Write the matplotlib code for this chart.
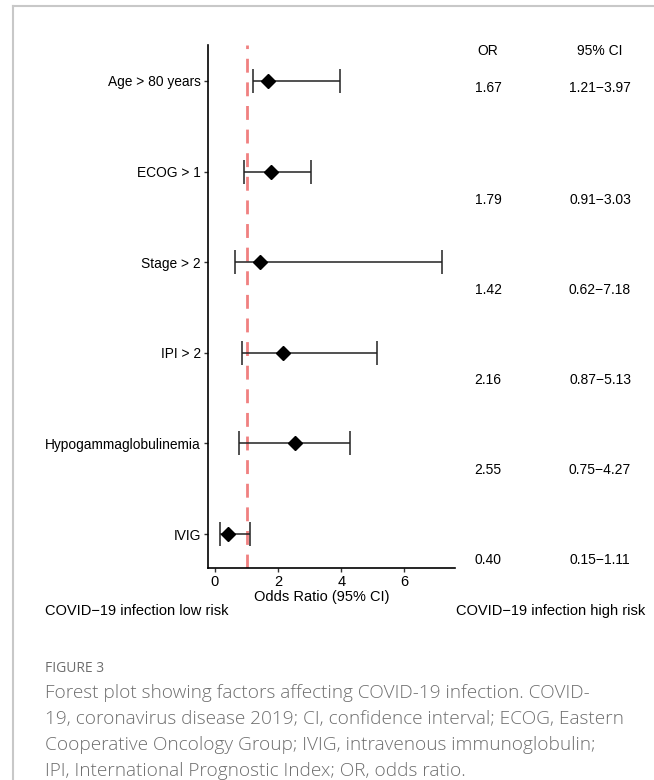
import matplotlib
matplotlib.use("Agg")
import matplotlib.pyplot as plt
from matplotlib.lines import Line2D

factors = ["Age > 80 years", "ECOG > 1", "Stage > 2", "IPI > 2",
           "Hypogammaglobulinemia", "IVIG"]
odds_ratio = [1.67, 1.79, 1.42, 2.16, 2.55, 0.40]
ci_low = [1.21, 0.91, 0.62, 0.87, 0.75, 0.15]
ci_high = [3.97, 3.03, 7.18, 5.13, 4.27, 1.11]
x_ticks = [0, 2, 4, 6]

W, H = 654, 780
fig = plt.figure(figsize=(W / 100, H / 100), dpi=100)
plt.rcParams['font.family'] = ['Liberation Sans', 'DejaVu Sans']

def fx(px):
    return px / W

def fy(py):
    return 1 - py / H

# frame lines of the page
fig.add_artist(Line2D([fx(13), fx(13)], [fy(6), 0], color="#c8c8c8", lw=1.5))
fig.add_artist(Line2D([fx(13), 1], [fy(6), fy(6)], color="#c8c8c8", lw=1.5))

ax_l, ax_r, ax_t, ax_b = 208, 455, 45, 568
ax = fig.add_axes([fx(ax_l), fy(ax_b), (ax_r - ax_l) / W, (ax_b - ax_t) / H])

ypos = list(range(len(factors)))
xerr = [[o - l for o, l in zip(odds_ratio, ci_low)],
        [h - o for o, h in zip(odds_ratio, ci_high)]]

ax.axvline(1, color="#f08080", lw=2, dashes=(5, 3.5), zorder=1)
ax.errorbar(odds_ratio, ypos, xerr=xerr, fmt="D", color="black",
            ecolor="#222222", elinewidth=1.1, capsize=8.3, capthick=1.1,
            markersize=7, zorder=3)

ax.set_xlim(-0.22, 7.6)
ax.set_ylim(5.375, -0.397)
ax.set_yticks(ypos)
ax.set_yticklabels(factors, fontsize=9.9)
ax.set_xticks(x_ticks)
ax.set_xticklabels([str(t) for t in x_ticks], fontsize=10.5)
ax.spines["top"].set_visible(False)
ax.spines["right"].set_visible(False)
for s in ("left", "bottom"):
    ax.spines[s].set_linewidth(1.2)
ax.tick_params(axis="both", length=3, width=1, color="#333333", pad=2)

# table columns
or_x, ci_x = 488, 600
fig.text(fx(or_x), fy(51), "OR", ha="center", va="center", fontsize=10)
fig.text(fx(ci_x), fy(51), "95% CI", ha="center", va="center", fontsize=10)
row_text_y = [88, 200, 290, 380, 470, 560]
for o, l, h, ty in zip(odds_ratio, ci_low, ci_high, row_text_y):
    fig.text(fx(or_x), fy(ty), f"{o:.2f}", ha="center", va="center", fontsize=10)
    fig.text(fx(ci_x), fy(ty), f"{l:.2f}\u2212{h:.2f}", ha="center", va="center", fontsize=10)

fig.text(fx(322), fy(597), "Odds Ratio (95% CI)", ha="center", va="center", fontsize=10.5)
fig.text(fx(45), fy(611), "COVID\u221219 infection low risk", ha="left", va="center", fontsize=10.5)
fig.text(fx(645), fy(611), "COVID\u221219 infection high risk", ha="right", va="center", fontsize=10.5)

cap_color = "#6e6e6e"
fig.text(fx(45), fy(668), "FIGURE 3", ha="left", va="center", fontsize=10,
         family="Open Sans", color=cap_color)
caption = [
    "Forest plot showing factors affecting COVID-19 infection. COVID-",
    "19, coronavirus disease 2019; CI, confidence interval; ECOG, Eastern",
    "Cooperative Oncology Group; IVIG, intravenous immunoglobulin;",
    "IPI, International Prognostic Index; OR, odds ratio.",
]
for line, ly in zip(caption, [693, 719, 745, 771]):
    fig.text(fx(45), fy(ly), line, ha="left", va="center", fontsize=13.7,
             family="Open Sans", color=cap_color, fontweight="light")

fig.savefig("out.png", dpi=100)
